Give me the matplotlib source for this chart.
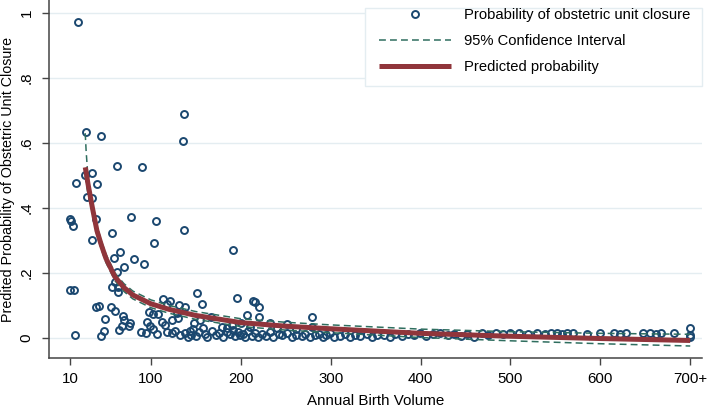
import matplotlib
matplotlib.use("Agg")
import matplotlib.pyplot as plt
from matplotlib.patches import Rectangle

plt.rcParams['font.family'] = ['Liberation Sans', 'DejaVu Sans']

# observed facility probabilities (birth volume, probability)
obs_x = [18.4, 27.6, 44.9, 136.4, 135.6, 61.8, 90, 27.2, 35, 16.5, 40.6, 35, 29,
         10.5, 10.8, 13.5, 39.5, 77.7, 105.6, 136.4, 56.5, 34.7, 103.3, 191.6, 65.5,
         58.8, 81.8, 69.9, 91.9, 62.5, 56.6, 63, 63, 59.9, 9.8, 15, 151, 156.8, 196,
         214, 215.5, 220.6, 113.8, 121.6, 118.2, 131.5, 137.5,
         39, 42, 55.5, 59.9, 48.8, 69.2, 70, 76.6, 75.5, 67.4, 95.2, 98.9, 97.8, 102.6,
         108.1, 111.9, 115.6, 123, 130.4, 128.6, 148.2, 154.6, 158.3, 166.8, 206.8,
         220.7, 232.5, 251, 279.6, 279.6, 178.7, 200, 190, 185, 210, 240, 262, 700,
         16.1, 44.3, 48, 64.4, 88.5, 94.1, 102.6, 106.3, 117.5, 123, 126.7, 132.3,
         138, 141, 143, 145, 147, 150, 153, 160, 163, 168, 172, 176, 180, 185, 188,
         191, 194, 197, 199, 202, 205, 208, 212, 216, 219, 224, 228, 233, 236, 242,
         246, 252, 257, 262, 268, 272, 277, 283, 287, 291, 295, 299, 304, 310, 316,
         322, 327, 333, 340, 346, 352, 359, 366, 372, 379, 386, 393, 399, 406, 414,
         422, 430, 437, 445, 452, 460, 468, 475,
         484, 492, 500, 510, 520, 530, 538, 545, 552, 557, 563, 570, 585, 600, 615,
         622, 628, 648, 655, 662, 668, 682, 700, 700]
obs_y = [0.972, 0.635, 0.622, 0.689, 0.607, 0.530, 0.525, 0.502, 0.508, 0.478, 0.475,
         0.432, 0.435, 0.366, 0.360, 0.343, 0.365, 0.371, 0.361, 0.333, 0.322, 0.302,
         0.293, 0.269, 0.264, 0.245, 0.243, 0.219, 0.226, 0.203, 0.156, 0.156, 0.142,
         0.171, 0.146, 0.148, 0.139, 0.104, 0.123, 0.113, 0.109, 0.095, 0.119, 0.115,
         0.105, 0.100, 0.094,
         0.094, 0.099, 0.094, 0.084, 0.059, 0.066, 0.055, 0.047, 0.038, 0.038, 0.050,
         0.037, 0.079, 0.074, 0.074, 0.050, 0.040, 0.055, 0.060, 0.076, 0.045, 0.055,
         0.030, 0.064, 0.071, 0.063, 0.045, 0.042, 0.064, 0.035, 0.035, 0.045, 0.040,
         0.030, 0.035, 0.030, 0.028, 0.031,
         0.008, 0.007, 0.022, 0.025, 0.019, 0.016, 0.028, 0.012, 0.019, 0.014, 0.022,
         0.009,
         0.015, 0.004, 0.022, 0.010, 0.028, 0.006, 0.018, 0.012, 0.003, 0.020, 0.008,
         0.014, 0.002, 0.017, 0.011, 0.025, 0.005, 0.019, 0.009, 0.013, 0.003, 0.021,
         0.007, 0.015, 0.002, 0.011, 0.006, 0.018, 0.004, 0.012, 0.009, 0.016, 0.003,
         0.010, 0.006, 0.013, 0.002, 0.008, 0.012, 0.004, 0.009, 0.014, 0.003, 0.007,
         0.011, 0.002, 0.009, 0.005, 0.012, 0.003, 0.008, 0.010, 0.004, 0.011, 0.006,
         0.013, 0.009, 0.015, 0.005, 0.012, 0.016, 0.008, 0.013, 0.006, 0.011, 0.004,
         0.014, 0.009,
         0.015, 0.011, 0.014, 0.016, 0.012, 0.015, 0.013, 0.016, 0.014, 0.011, 0.015,
         0.016, 0.013, 0.014, 0.016, 0.012, 0.015, 0.014, 0.016, 0.013, 0.015, 0.014,
         0.010, 0.004]

# fitted curve with 95% CI
fit_x = [27, 28, 30, 35, 40, 45, 50, 60, 70, 80, 100, 120, 150, 200, 250, 300, 400,
         500, 600, 700]
fit_p = [0.525, 0.510, 0.475, 0.400, 0.330, 0.285, 0.245, 0.188, 0.155, 0.132, 0.105,
         0.088, 0.069, 0.047, 0.036, 0.028, 0.014, 0.005, -0.002, -0.008]
fit_hi = [0.630, 0.575, 0.495, 0.415, 0.345, 0.298, 0.258, 0.200, 0.167, 0.144, 0.117,
          0.100, 0.081, 0.059, 0.048, 0.040, 0.027, 0.019, 0.014, 0.011]
fit_lo = [0.500, 0.475, 0.445, 0.385, 0.315, 0.272, 0.232, 0.176, 0.143, 0.120, 0.093,
          0.076, 0.057, 0.035, 0.024, 0.016, 0.001, -0.009, -0.018, -0.025]

x_ticks = [10, 100, 200, 300, 400, 500, 600, 700]
x_labels = ['10', '100', '200', '300', '400', '500', '600', '700+']
y_ticks = [0, 0.2, 0.4, 0.6, 0.8, 1.0]
y_labels = ['0', '.2', '.4', '.6', '.8', '1']

navy = '#1a476f'
teal = '#2f6e5f'
maroon = '#90353b'
grid_c = '#e4edf1'

fig = plt.figure(figsize=(7.09, 4.08), dpi=100, facecolor='white')
ax = fig.add_axes([0.069, 0.1225, 0.921, 0.8775])

for yt in y_ticks:
    ax.axhline(yt, color=grid_c, lw=1.0, zorder=0)

ax.plot(obs_x, obs_y, 'o', ls='none', ms=5, mfc='none', mec=navy, mew=1.4,
        label='Probability of obstetric unit closure', zorder=3)
ax.plot(fit_x, fit_hi, ls=(0, (4.5, 2.7)), color=teal, lw=1.1,
        label='95% Confidence Interval', zorder=4)
ax.plot(fit_x, fit_lo, ls=(0, (4.5, 2.7)), color=teal, lw=1.1, zorder=4)
ax.plot(fit_x, fit_p, color=maroon, lw=3.6, solid_capstyle='butt',
        label='Predicted probability', zorder=5)

ax.set_xlim(-13.4, 713)
ax.set_ylim(-0.062, 1.04)
ax.set_xticks(x_ticks)
ax.set_xticklabels(x_labels)
ax.set_yticks(y_ticks)
ax.set_yticklabels(y_labels, rotation=90, va='center')
ax.tick_params(axis='both', labelsize=10.8, length=5, width=1, color='#444444',
               labelcolor='black')
ax.tick_params(axis='y', labelsize=11, pad=6)
ax.tick_params(axis='x', pad=5)

for s in ['top', 'right']:
    ax.spines[s].set_visible(False)
for s in ['left', 'bottom']:
    ax.spines[s].set_color('#444444')
    ax.spines[s].set_linewidth(1.1)

ax.set_xlabel('Annual Birth Volume', fontsize=10.9, labelpad=6)
ax.set_ylabel('Predited Probability of Obstetric Unit Closure', fontsize=10.3)
ax.yaxis.set_label_coords(-34 / 653, 0.5)

# legend background box (white, faint edge)
box = Rectangle((365 / 709, 1 - 86 / 408), (702 - 365) / 709, 78 / 408,
                transform=fig.transFigure, facecolor='white', edgecolor=grid_c,
                lw=1.0, zorder=1, clip_on=False)
ax.add_patch(box)

leg = ax.legend(loc='upper left', bbox_to_anchor=(379 / 709, 1 - 8 / 408),
                bbox_transform=fig.transFigure, fontsize=10.6, frameon=False,
                handlelength=4.9, handletextpad=0.9, labelspacing=0.82,
                borderpad=0.0, borderaxespad=0)

fig.savefig('out.png', dpi=100, facecolor='white')
